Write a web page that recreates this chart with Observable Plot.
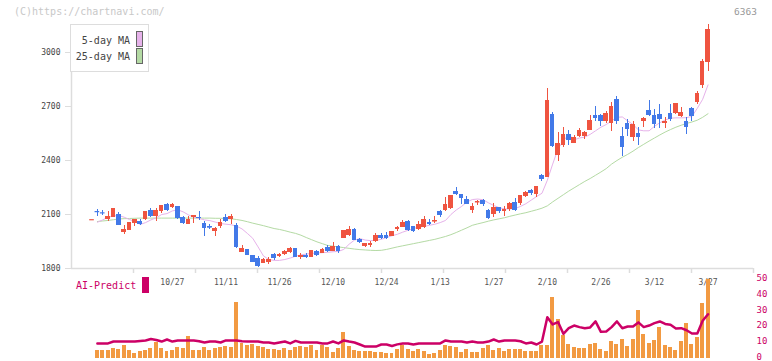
<!DOCTYPE html>
<html><head><meta charset="utf-8">
<script src="https://cdn.jsdelivr.net/npm/d3@7"></script>
<script src="https://cdn.jsdelivr.net/npm/@observablehq/plot@0.6"></script>
<style>
body{margin:0;background:#fff;}
#wrap{position:relative;width:772px;height:361px;overflow:hidden;font-family:"DejaVu Sans Mono",monospace;background:#fff;}
#wrap svg{position:absolute;left:0;}
.t{position:absolute;white-space:nowrap;line-height:12px;}
</style></head><body><div id="wrap"></div>
<script>
// ---- data (index 0..115, one per trading day) ----
const open = [2070,2117,2110,2070,2085,2100,2002,2011,2050,2061,
2072,2122,2091,2117,2154,2141,2145,2085,2046,2085,
2085,2050,2031,2006,2035,2085,2072,2039,1891,1905,
1872,1854,1830,1833,1878,1866,1878,1889,1911,1859,
1874,1863,1896,1885,1918,1896,1922,1967,1981,2018,
1959,1922,1926,1948,1981,1981,1978,2015,2030,2063,
2033,2015,2030,2057,2061,2118,2122,2133,2228,2211,
2183,2122,2167,2178,2122,2100,2137,2118,2130,2167,
2159,2200,2233,2211,2317,2307,2655,2428,2483,2544,
2496,2533,2533,2567,2650,2650,2618,2608,2739,2533,
2604,2530,2548,2618,2678,2650,2656,2604,2661,2659,
2645,2615,2687,2722,2817,2946];
const high = [2071,2128,2122,2118,2132,2109,2039,2055,2074,2072,
2118,2131,2131,2152,2161,2161,2146,2091,2091,2095,
2117,2061,2043,2026,2072,2098,2098,2048,1928,1907,
1874,1866,1855,1859,1881,1885,1900,1918,1913,1885,
1881,1902,1900,1911,1926,1944,1926,2013,2033,2020,
1967,1941,1952,1996,1996,1999,2007,2033,2067,2067,
2035,2060,2089,2074,2089,2122,2196,2207,2252,2213,
2202,2159,2178,2183,2126,2159,2141,2144,2165,2189,
2207,2230,2241,2258,2322,2798,2667,2556,2583,2567,
2539,2578,2563,2650,2700,2656,2674,2724,2756,2585,
2626,2615,2585,2637,2733,2685,2711,2637,2711,2717,
2693,2641,2693,2785,2959,3156];
const low = [2070,2090,2094,2061,2084,2038,1989,2010,2034,2039,
2066,2085,2061,2104,2117,2135,2072,2046,2045,2052,
2067,1980,2017,1980,2024,2057,2046,1909,1887,1870,
1833,1804,1826,1822,1844,1859,1874,1885,1861,1848,
1855,1861,1866,1881,1889,1892,1885,1965,1980,1955,
1941,1915,1918,1944,1959,1963,1976,2007,2026,2007,
2002,2012,2021,2040,2052,2085,2118,2130,2205,2156,
2156,2107,2152,2144,2074,2085,2107,2089,2118,2118,
2148,2193,2207,2193,2285,2305,2474,2396,2474,2483,
2494,2526,2515,2565,2618,2589,2604,2563,2600,2422,
2533,2507,2481,2582,2645,2576,2576,2576,2618,2656,
2637,2544,2615,2711,2802,2894];
const close = [2071,2116,2109,2089,2131,2039,2017,2054,2072,2046,
2117,2091,2122,2150,2122,2154,2076,2052,2072,2094,
2076,2024,2030,2024,2054,2061,2091,1918,1909,1872,
1835,1811,1848,1852,1853,1878,1896,1911,1863,1874,
1859,1900,1874,1904,1896,1922,1896,2011,2018,1956,
1944,1937,1941,1981,1965,1968,2004,2026,2056,2011,
2004,2046,2072,2044,2064,2094,2155,2205,2211,2191,
2157,2146,2170,2155,2078,2141,2118,2128,2163,2122,
2205,2224,2215,2256,2295,2733,2478,2496,2544,2511,
2530,2567,2556,2622,2635,2615,2661,2700,2615,2470,
2574,2600,2530,2633,2652,2600,2628,2618,2628,2715,
2667,2585,2645,2774,2952,3128];
const ma5 = [null,2057,2070,2085,2092,2094,2085,2072,2060,2045,
2055,2070,2082,2100,2105,2120,2126,2115,2098,2085,
2078,2070,2066,2058,2050,2046,2043,2035,2020,1995,
1968,1920,1870,1850,1845,1845,1850,1858,1868,1876,
1880,1884,1886,1888,1890,1893,1895,1906,1935,1958,
1966,1958,1955,1956,1962,1972,1982,1990,2002,2012,
2022,2030,2034,2040,2046,2055,2067,2100,2125,2145,
2170,2183,2186,2182,2165,2150,2138,2131,2131,2133,
2145,2160,2180,2200,2218,2290,2380,2465,2510,2545,
2515,2525,2530,2545,2565,2585,2600,2620,2640,2642,
2620,2600,2570,2565,2565,2590,2610,2625,2635,2637,
2637,2638,2645,2690,2740,2820];
const ma25 = [null,2061,2064,2067,2071,2075,2077,2078,2079,2080,
2080,2080,2080,2080,2080,2080,2080,2080,2080,2080,
2080,2080,2080,2079,2079,2078,2076,2072,2067,2060,
2052,2045,2038,2030,2022,2017,2010,2002,1995,1985,
1972,1960,1948,1938,1928,1924,1920,1916,1912,1908,
1905,1903,1901,1900,1901,1906,1913,1920,1926,1932,
1938,1944,1950,1956,1962,1970,1978,1988,2000,2013,
2026,2040,2048,2055,2063,2070,2076,2082,2090,2097,
2104,2110,2118,2126,2135,2148,2170,2190,2210,2230,
2248,2266,2284,2300,2318,2336,2355,2380,2400,2418,
2434,2452,2472,2490,2508,2525,2542,2558,2572,2585,
2596,2606,2614,2624,2640,2660];
const volume = [null,5.1,5.1,5.1,6.4,5.7,8.3,5.1,3.2,4.5,5.1,
6.4,10.2,6.4,4.5,5.1,7.0,6.4,14.0,5.1,5.1,
7.0,5.1,6.4,7.0,7.6,7.0,35.7,9.5,8.3,8.9,
7.6,7.0,5.7,5.7,5.1,6.4,5.1,7.0,7.6,7.0,
8.3,5.1,8.3,7.0,3.8,6.4,16.6,7.6,5.1,4.5,
4.5,4.5,3.8,3.8,3.2,3.2,5.7,8.3,5.7,4.5,
5.7,4.5,2.5,3.2,5.1,8.3,7.6,7.0,3.8,5.7,
3.8,3.8,6.4,8.3,5.1,6.4,4.5,5.7,5.7,5.7,
4.5,4.5,4.5,8.3,8.3,38.9,24.8,14.6,8.9,7.0,
6.4,6.4,8.9,9.5,5.7,4.5,10.8,8.9,12.1,7.6,
12.1,30.6,15.3,9.5,11.5,19.7,8.3,7.0,5.1,10.8,
22.3,8.9,13.4,35.0,50.3];
const aiPredict = [null,9.6,9.6,9.6,10.8,10.8,10.8,10.8,10.8,11.2,11.5,
12.4,11.8,10.8,12.1,10.8,11.5,11.5,11.5,11.5,11.0,
10.2,10.8,10.8,10.2,11.5,11.5,11.5,11.0,10.8,10.8,
10.8,10.2,10.2,9.6,10.2,10.8,9.6,11.2,10.2,10.2,
10.2,10.2,9.6,9.6,10.8,9.6,11.5,10.8,10.2,8.9,
7.6,7.6,7.6,8.9,8.9,8.0,9.0,9.6,9.6,8.9,
9.6,9.6,9.6,9.6,9.6,11.5,10.8,10.8,10.8,10.2,
10.8,10.2,10.2,10.8,12.1,10.8,11.5,11.5,11.5,11.0,
9.6,10.2,8.9,10.8,26.3,21.7,23.2,15.7,19.3,21.0,
20.0,19.3,19.8,23.6,17.0,17.2,20.0,23.6,19.3,20.4,
20.4,23.0,20.0,21.0,22.5,23.6,22.0,21.5,19.1,19.3,
18.0,15.9,15.9,24.0,28.2];
const tickIndex = [15,25,35,45,55,65,75,85,95,105,115];
const tickLabels = ["10/27","11/11","11/26","12/10","12/24","1/13","1/27","2/10","2/26","3/12","3/27"];
const yTicks = [1800,2100,2400,2700,3000];
const rightTicks = [0,10,20,30,40,50];

// ---- layout / styles ----
const RED = "#ef5440", BLUE = "#4279e8", PINK = "#e6b2ea", GREEN = "#b4daa4";
const CRIMSON = "#cc0066", ORANGE = "#f29a42";
const xDomain = [-3.83, 123.49];
const yDomain = [1800, 3155.6];
const gridTicks = d3.range(1, 12).map(k => xDomain[0] + k * (xDomain[1] - xDomain[0]) / 11);

const candles = close.map((c, i) => ({i, o: open[i], h: high[i], l: low[i], c, col: c >= open[i] ? RED : BLUE}));
const maRows = ma5.map((v, i) => ({i, ma5: v, ma25: ma25[i]}));
const volRows = volume.map((v, i) => ({i, v, ai: aiPredict[i]})).filter(d => d.v != null);
const HW = 0.43;

const baseStyle = {background: "transparent", overflow: "visible", fontFamily: "DejaVu Sans Mono, monospace"};

const main = Plot.plot({
  width: 772, height: 290,
  marginLeft: 71, marginRight: 19, marginTop: 24, marginBottom: 22,
  style: baseStyle,
  x: {domain: xDomain, axis: null},
  y: {domain: yDomain, axis: null},
  color: {type: "identity"},
  marks: [
    Plot.ruleX([xDomain[0]], {stroke: "#ddd", strokeWidth: 1.5}),
    Plot.ruleY([yDomain[0]], {stroke: "#ddd", strokeWidth: 1.5}),
    Plot.axisY(yTicks, {anchor: "left", tickSize: 6, tickPadding: 5, tickFormat: d => String(d), stroke: "#ddd", fill: "#444", fontSize: 8, label: null}),
    Plot.axisX(gridTicks, {anchor: "bottom", tickSize: 5, tickFormat: () => "", stroke: "#ddd", strokeWidth: 1.5, label: null}),
    Plot.axisX(tickIndex, {anchor: "bottom", tickSize: 0, tickPadding: 11, tickFormat: d => tickLabels[tickIndex.indexOf(d)], fill: "#555", fontSize: 8, label: null}),
    Plot.line(maRows.filter(d => d.ma25 != null), {x: "i", y: "ma25", stroke: GREEN, strokeWidth: 1}),
    Plot.line(maRows.filter(d => d.ma5 != null), {x: "i", y: "ma5", stroke: PINK, strokeWidth: 1}),
    Plot.ruleX(candles, {x: "i", y1: "l", y2: "h", stroke: "col", strokeWidth: 1, shapeRendering: "crispEdges"}),
    Plot.rect(candles, {x1: d => d.i - HW, x2: d => d.i + HW, y1: "o", y2: "c", fill: "col", shapeRendering: "crispEdges"}),
    Plot.ruleY(candles.filter(d => Math.abs(d.c - d.o) < 6), {y: "c", x1: d => d.i - HW, x2: d => d.i + HW, stroke: "col", strokeWidth: 1.2})
  ]
});
main.style.top = "0px";

const bottom = Plot.plot({
  width: 772, height: 91,
  marginLeft: 71, marginRight: 19, marginTop: 9.5, marginBottom: 3,
  style: baseStyle,
  x: {domain: xDomain, axis: null},
  y: {domain: [0, 50], axis: null},
  marks: [
    Plot.rect(volRows, {x1: d => d.i - 0.37, x2: d => d.i + 0.37, y1: 0, y2: "v", fill: ORANGE, shapeRendering: "crispEdges"}),
    Plot.line(volRows, {x: "i", y: "ai", stroke: CRIMSON, strokeWidth: 2.5}),
    Plot.axisY(rightTicks, {anchor: "right", tickSize: 0, tickPadding: 3, dy: -1.5, fill: CRIMSON, fontSize: 9, label: null})
  ]
});
bottom.style.top = "270px";

const wrap = document.getElementById("wrap");
wrap.appendChild(main);
wrap.appendChild(bottom);

function addText(txt, css) {
  const d = document.createElement("div");
  d.className = "t";
  d.textContent = txt;
  Object.assign(d.style, css);
  wrap.appendChild(d);
  return d;
}
function addBox(css) {
  const d = document.createElement("div");
  d.style.position = "absolute";
  d.style.boxSizing = "border-box";
  Object.assign(d.style, css);
  wrap.appendChild(d);
  return d;
}
addText("(C)https://chartnavi.com/", {left: "14px", top: "6px", fontSize: "10px", color: "#c8c8c8"});
addText("6363", {left: "734px", top: "6px", fontSize: "9.5px", color: "#999"});
// legend box
addBox({left: "70px", top: "24px", width: "79px", height: "48px", border: "1px solid #ddd", background: "#fff"});
addText("5-day MA", {right: (772 - 130) + "px", top: "35px", fontSize: "10px", color: "#444"});
addText("25-day MA", {right: (772 - 130) + "px", top: "51px", fontSize: "10px", color: "#444"});
addBox({left: "136px", top: "31px", width: "7px", height: "16px", border: "1px solid #666", background: PINK});
addBox({left: "136px", top: "48px", width: "7px", height: "16px", border: "1px solid #666", background: GREEN});
// AI-Predict legend
addText("AI-Predict", {left: "76px", top: "280px", fontSize: "10px", color: CRIMSON});
addBox({left: "142px", top: "277px", width: "7px", height: "16px", background: CRIMSON});
</script>
</body></html>
